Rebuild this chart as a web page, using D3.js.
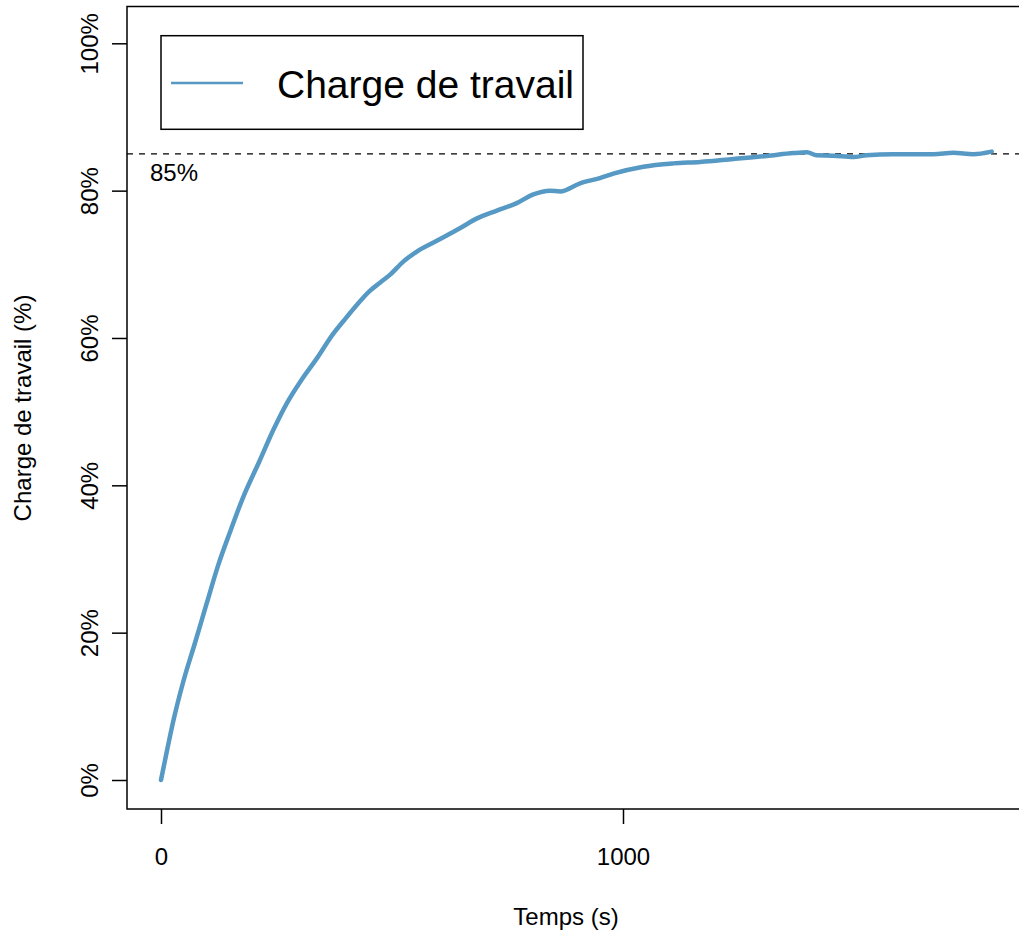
<!DOCTYPE html>
<html>
<head>
<meta charset="utf-8">
<script src="https://cdn.jsdelivr.net/npm/d3@7"></script>
<style>
  body { margin: 0; background: #fff; }
  svg { display: block; font-family: "Liberation Sans", Arial, Helvetica, sans-serif; }
</style>
</head>
<body>
<svg width="1019" height="931"></svg>
<script>
// time (s) and workload (%)
const temps = [0, 14, 27, 48, 74, 99, 124, 149, 176, 214, 243, 272, 305, 337, 373, 395, 416, 452, 474, 496, 525, 553, 597, 647, 683, 727, 770, 806, 842, 864, 907, 950, 979, 1044, 1109, 1167, 1239, 1311, 1369, 1398, 1419, 1455, 1499, 1527, 1585, 1636, 1672, 1715, 1758, 1798];
const charge = [0, 4.3, 8.1, 13.3, 18.7, 24.0, 29.2, 33.6, 38.1, 43.4, 47.5, 51.1, 54.4, 57.2, 60.6, 62.3, 63.9, 66.4, 67.5, 68.6, 70.4, 71.7, 73.2, 74.9, 76.2, 77.3, 78.3, 79.5, 80.0, 79.9, 81.0, 81.7, 82.3, 83.25, 83.7, 83.9, 84.3, 84.7, 85.1, 85.2, 84.8, 84.75, 84.55, 84.8, 84.95, 84.95, 84.95, 85.15, 84.95, 85.3];
const xTicks = [0, 1000];
const yTicks = [0, 20, 40, 60, 80, 100];
const seuil = 85;
const legendLabel = "Charge de travail";

const lineColour = "#5699c4";

let svg = d3.select("svg");

let x = d3.scaleLinear().domain([0, 1000]).range([161, 623]);
let y = d3.scaleLinear().domain([0, 100]).range([780, 43.3]);

const box = {left: 127, top: 6.5, right: 1030, bottom: 809};

svg.append("rect").attr("width", 1019).attr("height", 931).attr("fill", "#fff");

// threshold line
svg.append("line")
    .attr("x1", box.left).attr("x2", box.right)
    .attr("y1", y(seuil)).attr("y2", y(seuil))
    .attr("stroke", "#000").attr("stroke-width", 1.3)
    .attr("stroke-dasharray", "6,6");

svg.append("text")
    .attr("x", 150).attr("y", 181)
    .attr("font-size", 24)
    .text(seuil + "%");

// the curve
let line = d3.line()
    .x(function (d, i) { return x(temps[i]); })
    .y(function (d) { return y(d); })
    .curve(d3.curveMonotoneX);

svg.append("path")
    .datum(charge)
    .attr("d", line)
    .attr("fill", "none")
    .attr("stroke", lineColour)
    .attr("stroke-width", 4.5)
    .attr("stroke-linejoin", "round")
    .attr("stroke-linecap", "round");

// box
svg.append("rect")
    .attr("x", box.left).attr("y", box.top)
    .attr("width", box.right - box.left).attr("height", box.bottom - box.top)
    .attr("fill", "none").attr("stroke", "#000").attr("stroke-width", 1.5);

// y axis
let yAxis = svg.append("g")
    .attr("transform", "translate(" + box.left + ",0)")
    .call(d3.axisLeft(y).tickValues(yTicks).tickSize(15).tickSizeOuter(0)
        .tickFormat(function (d) { return d + "%"; }));
yAxis.select(".domain").remove();
yAxis.selectAll("line").attr("stroke-width", 1.5);
yAxis.selectAll("text")
    .attr("font-size", 24)
    .attr("font-family", null)
    .attr("fill", "#000")
    .attr("x", 0).attr("dy", null)
    .attr("text-anchor", "middle")
    .attr("transform", "translate(-29,0) rotate(-90)");

// x axis
let xAxis = svg.append("g")
    .attr("transform", "translate(0," + box.bottom + ")")
    .call(d3.axisBottom(x).tickValues(xTicks).tickSize(15).tickSizeOuter(0)
        .tickFormat(d3.format("d")));
xAxis.select(".domain").remove();
xAxis.selectAll("line").attr("stroke-width", 1.5);
xAxis.selectAll("text")
    .attr("font-size", 24)
    .attr("font-family", null)
    .attr("fill", "#000")
    .attr("dy", null)
    .attr("y", 56);

// axis titles
svg.append("text")
    .attr("x", 566).attr("y", 925)
    .attr("text-anchor", "middle")
    .attr("font-size", 24)
    .text("Temps (s)");

svg.append("text")
    .attr("transform", "translate(31,408) rotate(-90)")
    .attr("text-anchor", "middle")
    .attr("font-size", 24)
    .text("Charge de travail (%)");

// legend
let legend = svg.append("g");
legend.append("rect")
    .attr("x", 161).attr("y", 35.7)
    .attr("width", 422).attr("height", 93.6)
    .attr("fill", "#fff").attr("stroke", "#000").attr("stroke-width", 1.5);
legend.append("line")
    .attr("x1", 171).attr("x2", 243)
    .attr("y1", 83).attr("y2", 83)
    .attr("stroke", lineColour).attr("stroke-width", 2.5);
legend.append("text")
    .attr("x", 277).attr("y", 97.5)
    .attr("font-size", 39)
    .text(legendLabel);
</script>
</body>
</html>
